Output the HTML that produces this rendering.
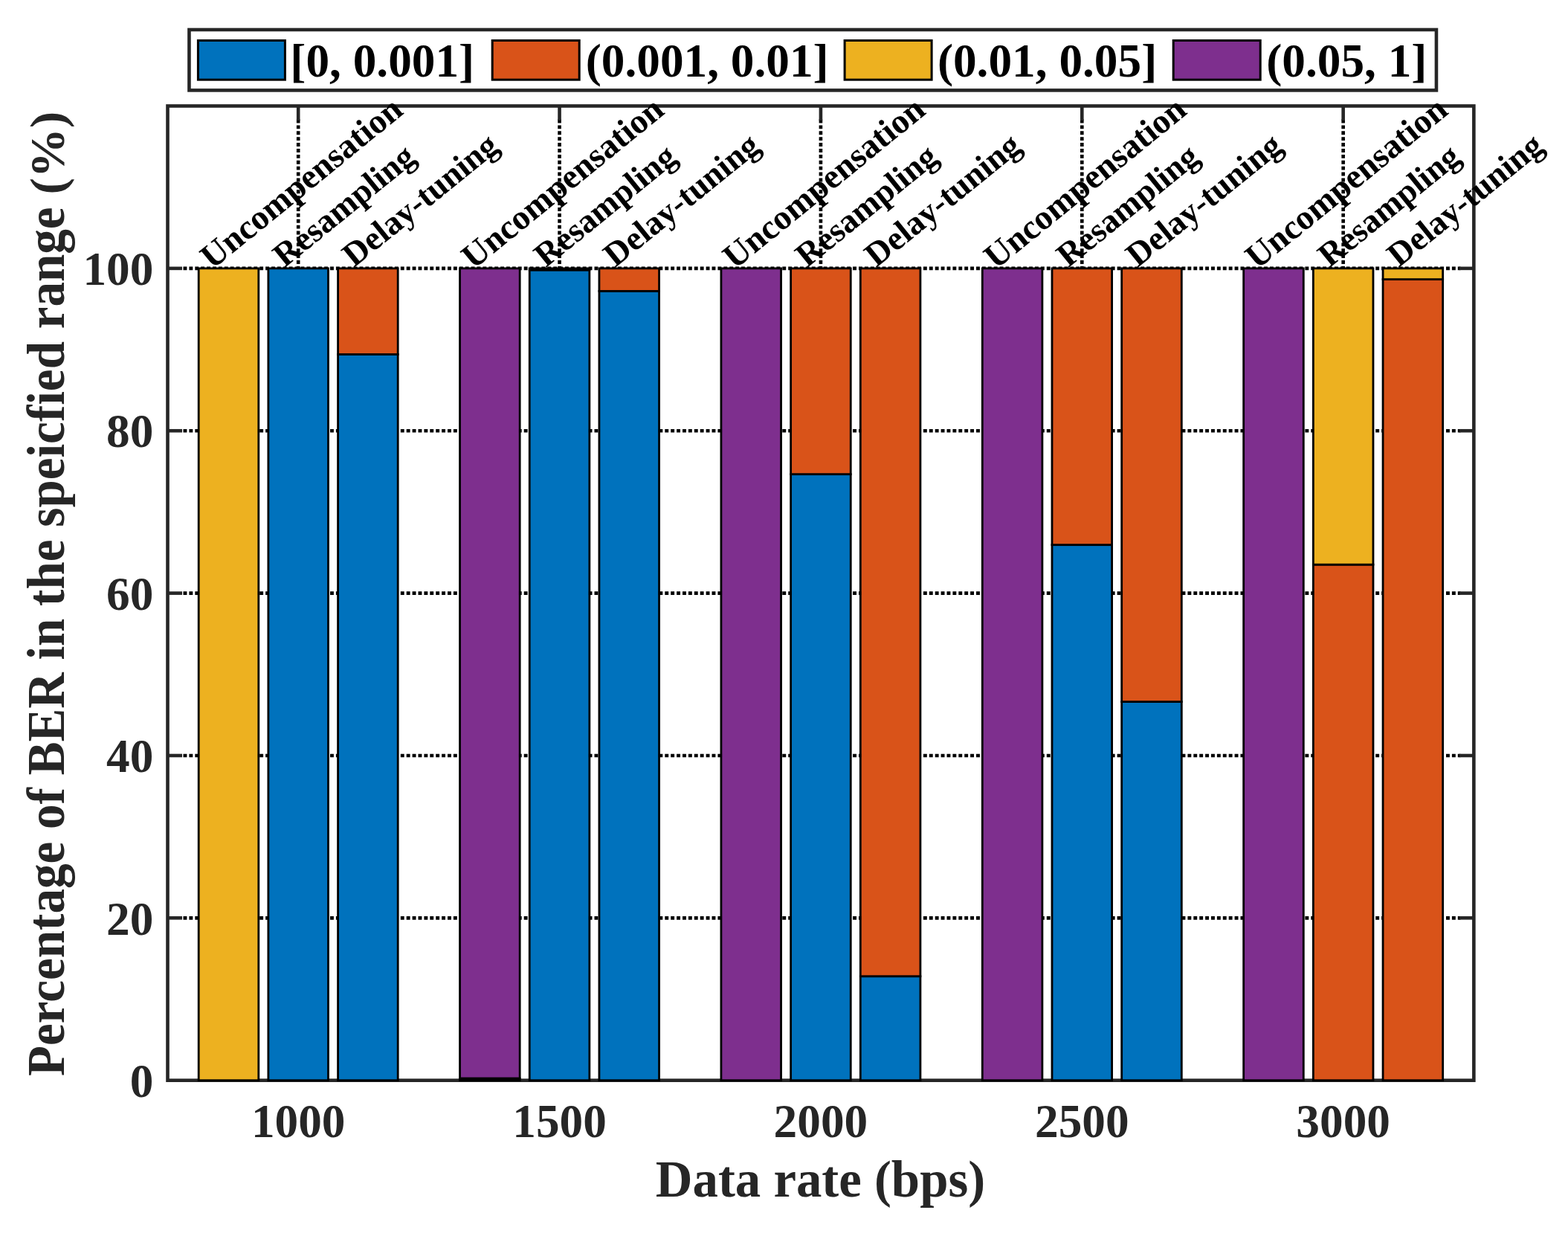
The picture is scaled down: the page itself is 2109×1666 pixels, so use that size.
<!DOCTYPE html>
<html><head><meta charset="utf-8"><style>html,body{margin:0;padding:0;background:#fff;}svg{display:block;}</style></head>
<body>
<svg width="2109" height="1666" viewBox="0 0 2109 1666">
<rect x="0" y="0" width="2109" height="1666" fill="#fff"/>
<line x1="243.5" y1="1234.33" x2="1964.35" y2="1234.33" stroke="#000" stroke-width="4.6" stroke-dasharray="4.9 3.0" stroke-dashoffset="-3"/>
<line x1="243.5" y1="1015.97" x2="1964.35" y2="1015.97" stroke="#000" stroke-width="4.6" stroke-dasharray="4.9 3.0" stroke-dashoffset="-3"/>
<line x1="243.5" y1="797.60" x2="1964.35" y2="797.60" stroke="#000" stroke-width="4.6" stroke-dasharray="4.9 3.0" stroke-dashoffset="-3"/>
<line x1="243.5" y1="579.23" x2="1964.35" y2="579.23" stroke="#000" stroke-width="4.6" stroke-dasharray="4.9 3.0" stroke-dashoffset="-3"/>
<line x1="243.5" y1="360.87" x2="1964.35" y2="360.87" stroke="#000" stroke-width="4.6" stroke-dasharray="4.9 3.0" stroke-dashoffset="-3"/>
<line x1="401.19" y1="160.5" x2="401.19" y2="1434.7" stroke="#000" stroke-width="4.6" stroke-dasharray="4.9 3.0"/>
<line x1="752.55" y1="160.5" x2="752.55" y2="1434.7" stroke="#000" stroke-width="4.6" stroke-dasharray="4.9 3.0"/>
<line x1="1103.92" y1="160.5" x2="1103.92" y2="1434.7" stroke="#000" stroke-width="4.6" stroke-dasharray="4.9 3.0"/>
<line x1="1455.30" y1="160.5" x2="1455.30" y2="1434.7" stroke="#000" stroke-width="4.6" stroke-dasharray="4.9 3.0"/>
<line x1="1806.66" y1="160.5" x2="1806.66" y2="1434.7" stroke="#000" stroke-width="4.6" stroke-dasharray="4.9 3.0"/>
<rect x="225.5" y="142.5" width="1756.85" height="1310.20" fill="none" stroke="#262626" stroke-width="4.6" stroke-linejoin="miter" stroke-linecap="square"/>
<line x1="225.5" y1="1234.33" x2="245.0" y2="1234.33" stroke="#262626" stroke-width="4.6"/>
<line x1="1982.35" y1="1234.33" x2="1962.85" y2="1234.33" stroke="#262626" stroke-width="4.6"/>
<line x1="225.5" y1="1015.97" x2="245.0" y2="1015.97" stroke="#262626" stroke-width="4.6"/>
<line x1="1982.35" y1="1015.97" x2="1962.85" y2="1015.97" stroke="#262626" stroke-width="4.6"/>
<line x1="225.5" y1="797.60" x2="245.0" y2="797.60" stroke="#262626" stroke-width="4.6"/>
<line x1="1982.35" y1="797.60" x2="1962.85" y2="797.60" stroke="#262626" stroke-width="4.6"/>
<line x1="225.5" y1="579.23" x2="245.0" y2="579.23" stroke="#262626" stroke-width="4.6"/>
<line x1="1982.35" y1="579.23" x2="1962.85" y2="579.23" stroke="#262626" stroke-width="4.6"/>
<line x1="225.5" y1="360.87" x2="245.0" y2="360.87" stroke="#262626" stroke-width="4.6"/>
<line x1="1982.35" y1="360.87" x2="1962.85" y2="360.87" stroke="#262626" stroke-width="4.6"/>
<line x1="401.19" y1="142.5" x2="401.19" y2="162.0" stroke="#262626" stroke-width="4.6"/>
<line x1="752.55" y1="142.5" x2="752.55" y2="162.0" stroke="#262626" stroke-width="4.6"/>
<line x1="1103.92" y1="142.5" x2="1103.92" y2="162.0" stroke="#262626" stroke-width="4.6"/>
<line x1="1455.30" y1="142.5" x2="1455.30" y2="162.0" stroke="#262626" stroke-width="4.6"/>
<line x1="1806.66" y1="142.5" x2="1806.66" y2="162.0" stroke="#262626" stroke-width="4.6"/>
<rect x="267.19" y="360.87" width="80.60" height="1091.83" fill="#EDB120" stroke="#000" stroke-width="2.8"/>
<rect x="360.88" y="360.87" width="80.60" height="1091.83" fill="#0072BD" stroke="#000" stroke-width="2.8"/>
<rect x="454.58" y="476.49" width="80.60" height="976.21" fill="#0072BD" stroke="#000" stroke-width="2.8"/>
<rect x="454.58" y="360.87" width="80.60" height="115.63" fill="#D95319" stroke="#000" stroke-width="2.8"/>
<rect x="618.56" y="1449.97" width="80.60" height="2.73" fill="#0072BD" stroke="#000" stroke-width="2.8"/>
<rect x="618.56" y="360.87" width="80.60" height="1089.10" fill="#7E2F8E" stroke="#000" stroke-width="2.8"/>
<rect x="712.25" y="363.05" width="80.60" height="1089.65" fill="#0072BD" stroke="#000" stroke-width="2.8"/>
<rect x="712.25" y="360.87" width="80.60" height="2.18" fill="#D95319" stroke="#000" stroke-width="2.8"/>
<rect x="805.95" y="391.44" width="80.60" height="1061.26" fill="#0072BD" stroke="#000" stroke-width="2.8"/>
<rect x="805.95" y="360.87" width="80.60" height="30.57" fill="#D95319" stroke="#000" stroke-width="2.8"/>
<rect x="969.93" y="360.87" width="80.60" height="1091.83" fill="#7E2F8E" stroke="#000" stroke-width="2.8"/>
<rect x="1063.62" y="637.65" width="80.60" height="815.05" fill="#0072BD" stroke="#000" stroke-width="2.8"/>
<rect x="1063.62" y="360.87" width="80.60" height="276.78" fill="#D95319" stroke="#000" stroke-width="2.8"/>
<rect x="1157.32" y="1312.73" width="80.60" height="139.97" fill="#0072BD" stroke="#000" stroke-width="2.8"/>
<rect x="1157.32" y="360.87" width="80.60" height="951.86" fill="#D95319" stroke="#000" stroke-width="2.8"/>
<rect x="1321.30" y="360.87" width="80.60" height="1091.83" fill="#7E2F8E" stroke="#000" stroke-width="2.8"/>
<rect x="1415.00" y="732.64" width="80.60" height="720.06" fill="#0072BD" stroke="#000" stroke-width="2.8"/>
<rect x="1415.00" y="360.87" width="80.60" height="371.77" fill="#D95319" stroke="#000" stroke-width="2.8"/>
<rect x="1508.69" y="943.58" width="80.60" height="509.12" fill="#0072BD" stroke="#000" stroke-width="2.8"/>
<rect x="1508.69" y="360.87" width="80.60" height="582.71" fill="#D95319" stroke="#000" stroke-width="2.8"/>
<rect x="1672.67" y="360.87" width="80.60" height="1091.83" fill="#7E2F8E" stroke="#000" stroke-width="2.8"/>
<rect x="1766.37" y="759.17" width="80.60" height="693.53" fill="#D95319" stroke="#000" stroke-width="2.8"/>
<rect x="1766.37" y="360.87" width="80.60" height="398.30" fill="#EDB120" stroke="#000" stroke-width="2.8"/>
<rect x="1860.06" y="375.61" width="80.60" height="1077.09" fill="#D95319" stroke="#000" stroke-width="2.8"/>
<rect x="1860.06" y="360.87" width="80.60" height="14.74" fill="#EDB120" stroke="#000" stroke-width="2.8"/>
<text x="206.4" y="1474.90" font-family="Liberation Serif, Times New Roman, serif" font-weight="bold" style="font-variant-ligatures:none" font-size="63.3" fill="#262626" text-anchor="end">0</text>
<text x="206.4" y="1256.53" font-family="Liberation Serif, Times New Roman, serif" font-weight="bold" style="font-variant-ligatures:none" font-size="63.3" fill="#262626" text-anchor="end">20</text>
<text x="206.4" y="1038.17" font-family="Liberation Serif, Times New Roman, serif" font-weight="bold" style="font-variant-ligatures:none" font-size="63.3" fill="#262626" text-anchor="end">40</text>
<text x="206.4" y="819.80" font-family="Liberation Serif, Times New Roman, serif" font-weight="bold" style="font-variant-ligatures:none" font-size="63.3" fill="#262626" text-anchor="end">60</text>
<text x="206.4" y="601.43" font-family="Liberation Serif, Times New Roman, serif" font-weight="bold" style="font-variant-ligatures:none" font-size="63.3" fill="#262626" text-anchor="end">80</text>
<text x="206.4" y="383.07" font-family="Liberation Serif, Times New Roman, serif" font-weight="bold" style="font-variant-ligatures:none" font-size="63.3" fill="#262626" text-anchor="end">100</text>
<text x="401.19" y="1529.2" font-family="Liberation Serif, Times New Roman, serif" font-weight="bold" style="font-variant-ligatures:none" font-size="63.3" fill="#262626" text-anchor="middle">1000</text>
<text x="752.55" y="1529.2" font-family="Liberation Serif, Times New Roman, serif" font-weight="bold" style="font-variant-ligatures:none" font-size="63.3" fill="#262626" text-anchor="middle">1500</text>
<text x="1103.92" y="1529.2" font-family="Liberation Serif, Times New Roman, serif" font-weight="bold" style="font-variant-ligatures:none" font-size="63.3" fill="#262626" text-anchor="middle">2000</text>
<text x="1455.30" y="1529.2" font-family="Liberation Serif, Times New Roman, serif" font-weight="bold" style="font-variant-ligatures:none" font-size="63.3" fill="#262626" text-anchor="middle">2500</text>
<text x="1806.66" y="1529.2" font-family="Liberation Serif, Times New Roman, serif" font-weight="bold" style="font-variant-ligatures:none" font-size="63.3" fill="#262626" text-anchor="middle">3000</text>
<text x="881.8" y="1608.9" font-family="Liberation Serif, Times New Roman, serif" font-weight="bold" style="font-variant-ligatures:none" font-size="68.8" fill="#262626">Data rate (bps)</text>
<text transform="translate(85.9,1447.1) rotate(-90) scale(1,1.07)" font-family="Liberation Serif, Times New Roman, serif" font-weight="bold" style="font-variant-ligatures:none" font-size="67.1" fill="#262626">Percentage of BER in the speicfied range</text>
<text transform="translate(85.9,261.58) rotate(-90) scale(1,0.98)" font-family="Liberation Serif, Times New Roman, serif" font-weight="bold" style="font-variant-ligatures:none" font-size="67.1" fill="#262626">(%)</text>
<text transform="translate(285.49,363.10) rotate(-39.2)" font-family="Liberation Serif, Times New Roman, serif" font-weight="bold" style="font-variant-ligatures:none" font-size="46.6" fill="#000">Uncompensation</text>
<text transform="translate(382.69,360.60) rotate(-39.1)" font-family="Liberation Serif, Times New Roman, serif" font-weight="bold" style="font-variant-ligatures:none" font-size="45.5" fill="#000">Resampling</text>
<text transform="translate(475.88,360.30) rotate(-39.0)" font-family="Liberation Serif, Times New Roman, serif" font-weight="bold" style="font-variant-ligatures:none" font-size="45.68" fill="#000">Delay-tuning</text>
<text transform="translate(636.86,363.10) rotate(-39.2)" font-family="Liberation Serif, Times New Roman, serif" font-weight="bold" style="font-variant-ligatures:none" font-size="46.6" fill="#000">Uncompensation</text>
<text transform="translate(734.05,360.60) rotate(-39.1)" font-family="Liberation Serif, Times New Roman, serif" font-weight="bold" style="font-variant-ligatures:none" font-size="45.5" fill="#000">Resampling</text>
<text transform="translate(827.25,360.30) rotate(-39.0)" font-family="Liberation Serif, Times New Roman, serif" font-weight="bold" style="font-variant-ligatures:none" font-size="45.68" fill="#000">Delay-tuning</text>
<text transform="translate(988.23,363.10) rotate(-39.2)" font-family="Liberation Serif, Times New Roman, serif" font-weight="bold" style="font-variant-ligatures:none" font-size="46.6" fill="#000">Uncompensation</text>
<text transform="translate(1085.42,360.60) rotate(-39.1)" font-family="Liberation Serif, Times New Roman, serif" font-weight="bold" style="font-variant-ligatures:none" font-size="45.5" fill="#000">Resampling</text>
<text transform="translate(1178.62,360.30) rotate(-39.0)" font-family="Liberation Serif, Times New Roman, serif" font-weight="bold" style="font-variant-ligatures:none" font-size="45.68" fill="#000">Delay-tuning</text>
<text transform="translate(1339.60,363.10) rotate(-39.2)" font-family="Liberation Serif, Times New Roman, serif" font-weight="bold" style="font-variant-ligatures:none" font-size="46.6" fill="#000">Uncompensation</text>
<text transform="translate(1436.80,360.60) rotate(-39.1)" font-family="Liberation Serif, Times New Roman, serif" font-weight="bold" style="font-variant-ligatures:none" font-size="45.5" fill="#000">Resampling</text>
<text transform="translate(1529.99,360.30) rotate(-39.0)" font-family="Liberation Serif, Times New Roman, serif" font-weight="bold" style="font-variant-ligatures:none" font-size="45.68" fill="#000">Delay-tuning</text>
<text transform="translate(1690.97,363.10) rotate(-39.2)" font-family="Liberation Serif, Times New Roman, serif" font-weight="bold" style="font-variant-ligatures:none" font-size="46.6" fill="#000">Uncompensation</text>
<text transform="translate(1788.16,360.60) rotate(-39.1)" font-family="Liberation Serif, Times New Roman, serif" font-weight="bold" style="font-variant-ligatures:none" font-size="45.5" fill="#000">Resampling</text>
<text transform="translate(1881.36,360.30) rotate(-39.0)" font-family="Liberation Serif, Times New Roman, serif" font-weight="bold" style="font-variant-ligatures:none" font-size="45.68" fill="#000">Delay-tuning</text>
<rect x="254.45" y="39.95" width="1677.50" height="81.45" fill="#fff" stroke="#262626" stroke-width="4.6"/>
<rect x="266.40" y="54.45" width="117" height="52.75" fill="#0072BD" stroke="#000" stroke-width="3"/>
<text x="390.3" y="103.2" font-family="Liberation Serif, Times New Roman, serif" font-weight="bold" style="font-variant-ligatures:none" font-size="63.3" fill="#000">[0, 0.001]</text>
<rect x="662.20" y="54.45" width="117" height="52.75" fill="#D95319" stroke="#000" stroke-width="3"/>
<text x="787.7" y="103.2" font-family="Liberation Serif, Times New Roman, serif" font-weight="bold" style="font-variant-ligatures:none" font-size="63.3" fill="#000">(0.001, 0.01]</text>
<rect x="1136.10" y="54.45" width="117" height="52.75" fill="#EDB120" stroke="#000" stroke-width="3"/>
<text x="1260.9" y="103.2" font-family="Liberation Serif, Times New Roman, serif" font-weight="bold" style="font-variant-ligatures:none" font-size="63.3" fill="#000">(0.01, 0.05]</text>
<rect x="1578.20" y="54.45" width="117" height="52.75" fill="#7E2F8E" stroke="#000" stroke-width="3"/>
<text x="1703.2" y="103.2" font-family="Liberation Serif, Times New Roman, serif" font-weight="bold" style="font-variant-ligatures:none" font-size="63.3" fill="#000">(0.05, 1]</text>
</svg>
</body></html>
